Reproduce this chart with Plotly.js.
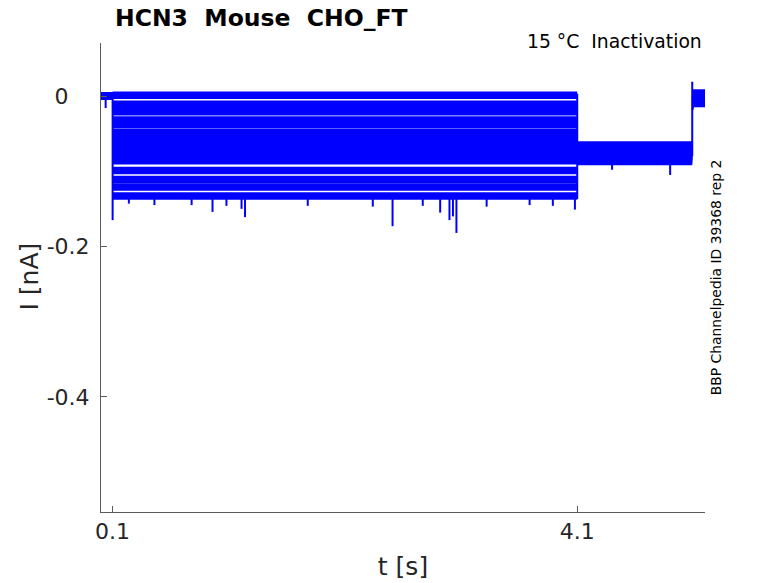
<!DOCTYPE html>
<html>
<head>
<meta charset="utf-8">
<script src="https://cdn.plot.ly/plotly-3.0.1.min.js"></script>
<style>
  html, body { margin: 0; padding: 0; background: #fff; }
  #plot { width: 778px; height: 583px; }
</style>
</head>
<body>
<div id="plot"></div>
<script>
// protocol step times [s]: hold, prepulse start, prepulse end, test end, record end
const stepTimes = [0, 0.1, 4.1, 5.09, 5.2];

// mean current of each sweep during the prepulse [nA]
const prepulseLevels = [0.001, -0.011, -0.021, -0.032, -0.038, -0.048, -0.053, -0.060,
                        -0.070, -0.076, -0.086, -0.099, -0.111, -0.121, -0.133];

// mean current of each sweep during the test step [nA]
const testLevels = [-0.065, -0.066, -0.068, -0.069, -0.071, -0.073, -0.074, -0.076,
                    -0.077, -0.079, -0.080, -0.082, -0.084, -0.085, -0.087];

// current after the test step [nA]
const tailLevels = [0.004, 0.003, 0.002, 0.001, 0.0, -0.001, -0.002, -0.003,
                    -0.004, -0.005, -0.006, -0.007, -0.008, -0.009, -0.010];

// short transients seen on top of the noise: time, start, peak [nA]
const spikeTimes = [0.04, 0.1, 0.24, 0.46, 0.78, 0.96, 1.08, 1.21, 1.24, 1.78, 2.34,
                    2.51, 2.77, 2.92, 3.00, 3.03, 3.06, 3.32, 3.69, 3.89, 4.08,
                    4.1, 4.40, 4.90, 5.09, 5.095];
const spikeFrom  = [0, 0, -0.133, -0.133, -0.133, -0.133, -0.133, -0.133, -0.133, -0.133, -0.133,
                    -0.133, -0.133, -0.133, -0.133, -0.133, -0.133, -0.133, -0.133, -0.133, -0.133,
                    0.003, -0.087, -0.087, -0.080, 0.0];
const spikePeak  = [-0.016, -0.165, -0.143, -0.145, -0.145, -0.154, -0.146, -0.150, -0.161, -0.146, -0.147,
                    -0.173, -0.146, -0.155, -0.165, -0.160, -0.182, -0.147, -0.145, -0.146, -0.151,
                    -0.137, -0.098, -0.105, 0.019, -0.018];

// y tick labels (the 0 is padded the way the original lines it up)
const yTickVals = [-0.4, -0.2, 0];
const yTickText = ['-0.4', '-0.2', '0\u2008\u2007'];
const xTickVals = [0.1, 4.1];
const xTickText = ['0.1', '4.1'];

const blue = '#0000ff';
const traces = [];

// one trace per sweep, each protocol step drawn as its own piece
prepulseLevels.forEach((lvl, i) => {
    traces.push({
        x: [stepTimes[0], stepTimes[1], null,
            stepTimes[1], stepTimes[2], null,
            stepTimes[2], stepTimes[3], null,
            stepTimes[3], stepTimes[4]],
        y: [0, 0, null,
            lvl, lvl, null,
            testLevels[i], testLevels[i], null,
            tailLevels[i], tailLevels[i]],
        mode: 'lines',
        connectgaps: false,
        line: {color: blue, width: 7.5},
        hoverinfo: 'skip',
        showlegend: false
    });
});

// spikes and step edges as thin segments
let sx = [], sy = [];
spikeTimes.forEach((t, i) => {
    sx.push(t, t, null);
    sy.push(spikeFrom[i], spikePeak[i], null);
});
traces.push({
    x: sx, y: sy,
    mode: 'lines',
    line: {color: blue, width: 2},
    hoverinfo: 'skip',
    showlegend: false
});

const axisGray = '#5a5a5a';
const textCol = '#262626';

const layout = {
    width: 778,
    height: 583,
    margin: {l: 101, r: 73, t: 43, b: 71, pad: 0},
    paper_bgcolor: '#fff',
    plot_bgcolor: '#fff',
    font: {family: 'DejaVu Sans', color: textCol},
    title: {
        text: '<b>HCN3\u00a0 Mouse\u00a0 CHO_FT</b>',
        x: 115 / 778, xanchor: 'left', xref: 'container',
        y: 1 - 18 / 583, yanchor: 'middle', yref: 'container',
        font: {family: 'DejaVu Sans', size: 23.5, color: '#000'}
    },
    xaxis: {
        range: [0, 5.2],
        showline: true, linecolor: axisGray, linewidth: 1, mirror: false,
        showgrid: false, zeroline: false,
        ticks: 'inside', ticklen: 6, tickcolor: axisGray,
        tickvals: xTickVals, ticktext: xTickText,
        tickfont: {size: 22, color: textCol},
        title: {text: 't [s]', font: {size: 25, color: textCol}, standoff: 14}
    },
    yaxis: {
        range: [-0.553, 0.0705],
        showline: true, linecolor: axisGray, linewidth: 1, mirror: false,
        showgrid: false, zeroline: false,
        ticks: 'inside', ticklen: 6, tickcolor: axisGray,
        tickvals: yTickVals, ticktext: yTickText,
        tickfont: {size: 22, color: textCol},
        ticklabelstandoff: 6
    },
    annotations: [
        {
            text: 'I [nA]',
            xref: 'paper', yref: 'paper',
            x: (30 - 101.3) / 603.7, y: (512.3 - 277) / 469.3,
            xanchor: 'center', yanchor: 'middle',
            textangle: -90,
            showarrow: false,
            font: {size: 25, color: textCol}
        },
        {
            text: '15 °C\u00a0 Inactivation',
            xref: 'paper', yref: 'paper',
            x: (704 - 101.3) / 603.7, y: (512.3 - 41) / 469.3,
            xanchor: 'right', yanchor: 'middle',
            showarrow: false,
            font: {size: 18.8, color: '#000'}
        },
        {
            text: 'BBP Channelpedia ID 39368 rep 2',
            xref: 'paper', yref: 'paper',
            x: (716 - 101.3) / 603.7, y: (512.3 - 277.5) / 469.3,
            xanchor: 'center', yanchor: 'middle',
            textangle: -90,
            showarrow: false,
            font: {size: 13.9, color: '#000'}
        }
    ]
};

Plotly.newPlot('plot', traces, layout, {staticPlot: true, displayModeBar: false});
</script>
</body>
</html>
